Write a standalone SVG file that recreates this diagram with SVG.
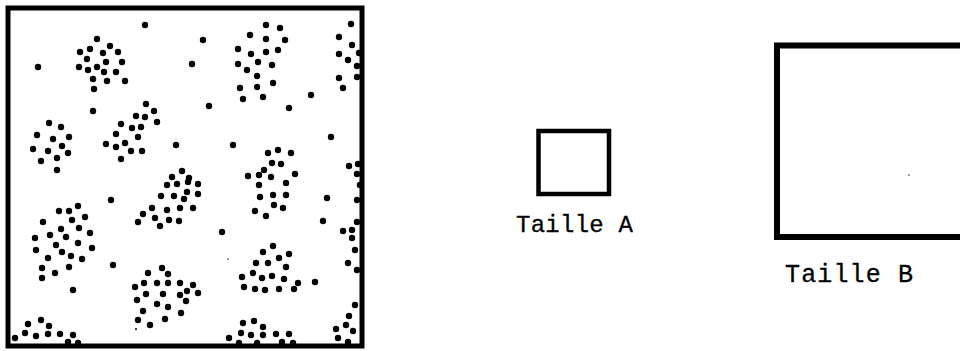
<svg xmlns="http://www.w3.org/2000/svg" width="960" height="351" viewBox="0 0 960 351">
<style>
.frame{fill:none;stroke:#000;stroke-linejoin:miter}
.d{fill:#000}
.s{fill:#000}
.lbl{font-family:"Liberation Mono","Courier New",monospace;fill:#000;stroke:#000;stroke-width:0.3}
</style>
<rect width="960" height="351" fill="#fff"/>
<g id="field">
<rect class="frame" x="8" y="8" width="354" height="338" stroke-width="5"/>
<g id="dots">
<circle class="d" cx="145" cy="25" r="3.2"/><circle class="d" cx="97" cy="39" r="3.2"/><circle class="d" cx="110" cy="46" r="3.2"/><circle class="d" cx="80" cy="52" r="3.2"/><circle class="d" cx="90" cy="49" r="3.2"/><circle class="d" cx="103" cy="53" r="3.2"/><circle class="d" cx="118" cy="52" r="3.2"/><circle class="d" cx="38" cy="67" r="3.2"/><circle class="d" cx="87" cy="59" r="3.2"/><circle class="d" cx="106" cy="62" r="3.2"/><circle class="d" cx="122" cy="62" r="3.2"/><circle class="d" cx="79" cy="67" r="3.2"/><circle class="d" cx="88" cy="70" r="3.2"/><circle class="d" cx="97" cy="67" r="3.2"/><circle class="d" cx="104" cy="72" r="3.2"/><circle class="d" cx="116" cy="72" r="3.2"/><circle class="d" cx="93" cy="79" r="3.2"/><circle class="d" cx="107" cy="81" r="3.2"/><circle class="d" cx="125" cy="81" r="3.2"/><circle class="d" cx="94" cy="89" r="3.2"/><circle class="d" cx="93" cy="111" r="3.2"/><circle class="d" cx="146" cy="104" r="3.2"/><circle class="d" cx="154" cy="111" r="3.2"/><circle class="d" cx="136" cy="116" r="3.2"/><circle class="d" cx="145" cy="117" r="3.2"/><circle class="d" cx="157" cy="122" r="3.2"/><circle class="d" cx="121" cy="124" r="3.2"/><circle class="d" cx="132" cy="128" r="3.2"/><circle class="d" cx="141" cy="127" r="3.2"/><circle class="d" cx="49" cy="123" r="3.2"/><circle class="d" cx="61" cy="127" r="3.2"/><circle class="d" cx="37" cy="135" r="3.2"/><circle class="d" cx="53" cy="139" r="3.2"/><circle class="d" cx="69" cy="137" r="3.2"/><circle class="d" cx="116" cy="134" r="3.2"/><circle class="d" cx="138" cy="137" r="3.2"/><circle class="d" cx="33" cy="149" r="3.2"/><circle class="d" cx="62" cy="146" r="3.2"/><circle class="d" cx="48" cy="151" r="3.2"/><circle class="d" cx="68" cy="153" r="3.2"/><circle class="d" cx="106" cy="144" r="3.2"/><circle class="d" cx="116" cy="147" r="3.2"/><circle class="d" cx="125" cy="143" r="3.2"/><circle class="d" cx="131" cy="151" r="3.2"/><circle class="d" cx="142" cy="151" r="3.2"/><circle class="d" cx="176" cy="145" r="3.2"/><circle class="d" cx="41" cy="161" r="3.2"/><circle class="d" cx="57" cy="158" r="3.2"/><circle class="d" cx="121" cy="159" r="3.2"/><circle class="d" cx="57" cy="170" r="3.2"/><circle class="d" cx="172" cy="177" r="3.2"/><circle class="d" cx="182" cy="171" r="3.2"/>
<circle class="d" cx="351" cy="24" r="3.2"/><circle class="d" cx="266" cy="25" r="3.2"/><circle class="d" cx="280" cy="28" r="3.2"/><circle class="d" cx="250" cy="35" r="3.2"/><circle class="d" cx="266" cy="39" r="3.2"/><circle class="d" cx="285" cy="40" r="3.2"/><circle class="d" cx="203" cy="40" r="3.2"/><circle class="d" cx="339" cy="37" r="3.2"/><circle class="d" cx="352" cy="45" r="3.2"/><circle class="d" cx="238" cy="49" r="3.2"/><circle class="d" cx="251" cy="54" r="3.2"/><circle class="d" cx="266" cy="52" r="3.2"/><circle class="d" cx="278" cy="50" r="3.2"/><circle class="d" cx="339" cy="54" r="3.2"/><circle class="d" cx="359" cy="53" r="3.2"/><circle class="d" cx="192" cy="64" r="3.2"/><circle class="d" cx="238" cy="64" r="3.2"/><circle class="d" cx="247" cy="70" r="3.2"/><circle class="d" cx="258" cy="62" r="3.2"/><circle class="d" cx="272" cy="65" r="3.2"/><circle class="d" cx="348" cy="60" r="3.2"/><circle class="d" cx="357" cy="66" r="3.2"/><circle class="d" cx="257" cy="76" r="3.2"/><circle class="d" cx="339" cy="78" r="3.2"/><circle class="d" cx="357" cy="77" r="3.2"/><circle class="d" cx="240" cy="88" r="3.2"/><circle class="d" cx="257" cy="87" r="3.2"/><circle class="d" cx="273" cy="83" r="3.2"/><circle class="d" cx="343" cy="88" r="3.2"/><circle class="d" cx="243" cy="99" r="3.2"/><circle class="d" cx="263" cy="97" r="3.2"/><circle class="d" cx="311" cy="95" r="3.2"/><circle class="d" cx="209" cy="106" r="3.2"/><circle class="d" cx="289" cy="108" r="3.2"/><circle class="d" cx="331" cy="137" r="3.2"/><circle class="d" cx="233" cy="145" r="3.2"/><circle class="d" cx="268" cy="153" r="3.2"/><circle class="d" cx="278" cy="150" r="3.2"/><circle class="d" cx="291" cy="153" r="3.2"/><circle class="d" cx="272" cy="163" r="3.2"/><circle class="d" cx="281" cy="164" r="3.2"/><circle class="d" cx="349" cy="166" r="3.2"/><circle class="d" cx="358" cy="164" r="3.2"/><circle class="d" cx="189" cy="178" r="3.2"/><circle class="d" cx="248" cy="176" r="3.2"/><circle class="d" cx="259" cy="175" r="3.2"/><circle class="d" cx="264" cy="170" r="3.2"/><circle class="d" cx="271" cy="177" r="3.2"/><circle class="d" cx="295" cy="174" r="3.2"/><circle class="d" cx="357" cy="174" r="3.2"/>
<circle class="d" cx="167" cy="185" r="3.2"/><circle class="d" cx="177" cy="184" r="3.2"/><circle class="d" cx="188" cy="182" r="3.2"/><circle class="d" cx="111" cy="200" r="3.2"/><circle class="d" cx="161" cy="196" r="3.2"/><circle class="d" cx="174" cy="196" r="3.2"/><circle class="d" cx="184" cy="199" r="3.2"/><circle class="d" cx="187" cy="192" r="3.2"/><circle class="d" cx="78" cy="206" r="3.2"/><circle class="d" cx="59" cy="211" r="3.2"/><circle class="d" cx="69" cy="211" r="3.2"/><circle class="d" cx="85" cy="217" r="3.2"/><circle class="d" cx="43" cy="222" r="3.2"/><circle class="d" cx="72" cy="220" r="3.2"/><circle class="d" cx="152" cy="208" r="3.2"/><circle class="d" cx="167" cy="210" r="3.2"/><circle class="d" cx="180" cy="208" r="3.2"/><circle class="d" cx="143" cy="214" r="3.2"/><circle class="d" cx="155" cy="218" r="3.2"/><circle class="d" cx="169" cy="220" r="3.2"/><circle class="d" cx="179" cy="221" r="3.2"/><circle class="d" cx="138" cy="222" r="3.2"/><circle class="d" cx="160" cy="226" r="3.2"/><circle class="d" cx="61" cy="229" r="3.2"/><circle class="d" cx="79" cy="228" r="3.2"/><circle class="d" cx="90" cy="233" r="3.2"/><circle class="d" cx="35" cy="238" r="3.2"/><circle class="d" cx="50" cy="235" r="3.2"/><circle class="d" cx="66" cy="237" r="3.2"/><circle class="d" cx="56" cy="245" r="3.2"/><circle class="d" cx="78" cy="243" r="3.2"/><circle class="d" cx="92" cy="248" r="3.2"/><circle class="d" cx="36" cy="250" r="3.2"/><circle class="d" cx="62" cy="252" r="3.2"/><circle class="d" cx="71" cy="256" r="3.2"/><circle class="d" cx="82" cy="259" r="3.2"/><circle class="d" cx="48" cy="258" r="3.2"/><circle class="d" cx="113" cy="265" r="3.2"/><circle class="d" cx="42" cy="268" r="3.2"/><circle class="d" cx="69" cy="267" r="3.2"/><circle class="d" cx="55" cy="273" r="3.2"/><circle class="d" cx="42" cy="278" r="3.2"/><circle class="d" cx="162" cy="268" r="3.2"/><circle class="d" cx="148" cy="273" r="3.2"/><circle class="d" cx="168" cy="274" r="3.2"/><circle class="d" cx="144" cy="283" r="3.2"/><circle class="d" cx="157" cy="283" r="3.2"/><circle class="d" cx="168" cy="283" r="3.2"/><circle class="d" cx="180" cy="283" r="3.2"/><circle class="d" cx="135" cy="287" r="3.2"/><circle class="d" cx="187" cy="291" r="3.2"/><circle class="d" cx="146" cy="294" r="3.2"/><circle class="d" cx="163" cy="294" r="3.2"/><circle class="d" cx="180" cy="295" r="3.2"/><circle class="d" cx="137" cy="300" r="3.2"/><circle class="d" cx="157" cy="304" r="3.2"/><circle class="d" cx="168" cy="307" r="3.2"/><circle class="d" cx="186" cy="301" r="3.2"/><circle class="d" cx="143" cy="311" r="3.2"/><circle class="d" cx="181" cy="313" r="3.2"/><circle class="d" cx="73" cy="290" r="3.2"/><circle class="d" cx="165" cy="319" r="3.2"/><circle class="d" cx="138" cy="320" r="3.2"/><circle class="d" cx="150" cy="325" r="3.2"/><circle class="d" cx="41" cy="320" r="3.2"/><circle class="d" cx="28" cy="324" r="3.2"/><circle class="d" cx="49" cy="326" r="3.2"/><circle class="d" cx="25" cy="333" r="3.2"/><circle class="d" cx="36" cy="336" r="3.2"/><circle class="d" cx="48" cy="334" r="3.2"/><circle class="d" cx="60" cy="334" r="3.2"/><circle class="d" cx="73" cy="335" r="3.2"/><circle class="d" cx="15" cy="338" r="3.2"/><circle class="d" cx="68" cy="342" r="3.2"/><circle class="d" cx="78" cy="343" r="3.2"/>
<circle class="d" cx="198" cy="184" r="3.2"/><circle class="d" cx="198" cy="194" r="3.2"/><circle class="d" cx="193" cy="208" r="3.2"/><circle class="d" cx="259" cy="185" r="3.2"/><circle class="d" cx="286" cy="183" r="3.2"/><circle class="d" cx="260" cy="197" r="3.2"/><circle class="d" cx="273" cy="195" r="3.2"/><circle class="d" cx="286" cy="195" r="3.2"/><circle class="d" cx="274" cy="205" r="3.2"/><circle class="d" cx="283" cy="208" r="3.2"/><circle class="d" cx="255" cy="211" r="3.2"/><circle class="d" cx="266" cy="216" r="3.2"/><circle class="d" cx="327" cy="198" r="3.2"/><circle class="d" cx="323" cy="221" r="3.2"/><circle class="d" cx="222" cy="232" r="3.2"/><circle class="d" cx="360" cy="185" r="3.2"/><circle class="d" cx="357" cy="200" r="3.2"/><circle class="d" cx="357" cy="222" r="3.2"/><circle class="d" cx="343" cy="231" r="3.2"/><circle class="d" cx="352" cy="230" r="3.2"/><circle class="d" cx="352" cy="238" r="3.2"/><circle class="d" cx="355" cy="250" r="3.2"/><circle class="d" cx="348" cy="263" r="3.2"/><circle class="d" cx="357" cy="270" r="3.2"/><circle class="d" cx="273" cy="246" r="3.2"/><circle class="d" cx="263" cy="252" r="3.2"/><circle class="d" cx="289" cy="254" r="3.2"/><circle class="d" cx="279" cy="258" r="3.2"/><circle class="d" cx="256" cy="263" r="3.2"/><circle class="d" cx="268" cy="263" r="3.2"/><circle class="d" cx="286" cy="267" r="3.2"/><circle class="d" cx="253" cy="273" r="3.2"/><circle class="d" cx="262" cy="278" r="3.2"/><circle class="d" cx="272" cy="276" r="3.2"/><circle class="d" cx="284" cy="279" r="3.2"/><circle class="d" cx="242" cy="277" r="3.2"/><circle class="d" cx="298" cy="283" r="3.2"/><circle class="d" cx="315" cy="282" r="3.2"/><circle class="d" cx="244" cy="287" r="3.2"/><circle class="d" cx="255" cy="289" r="3.2"/><circle class="d" cx="265" cy="290" r="3.2"/><circle class="d" cx="279" cy="289" r="3.2"/><circle class="d" cx="294" cy="289" r="3.2"/><circle class="d" cx="193" cy="285" r="3.2"/><circle class="d" cx="198" cy="293" r="3.2"/><circle class="d" cx="355" cy="305" r="3.2"/><circle class="d" cx="349" cy="316" r="3.2"/><circle class="d" cx="346" cy="325" r="3.2"/><circle class="d" cx="336" cy="329" r="3.2"/><circle class="d" cx="353" cy="331" r="3.2"/><circle class="d" cx="338" cy="338" r="3.2"/><circle class="d" cx="348" cy="342" r="3.2"/><circle class="d" cx="243" cy="323" r="3.2"/><circle class="d" cx="254" cy="321" r="3.2"/><circle class="d" cx="263" cy="327" r="3.2"/><circle class="d" cx="241" cy="333" r="3.2"/><circle class="d" cx="251" cy="335" r="3.2"/><circle class="d" cx="263" cy="335" r="3.2"/><circle class="d" cx="276" cy="334" r="3.2"/><circle class="d" cx="289" cy="334" r="3.2"/><circle class="d" cx="229" cy="338" r="3.2"/><circle class="d" cx="239" cy="343" r="3.2"/><circle class="d" cx="257" cy="343" r="3.2"/><circle class="d" cx="282" cy="342" r="3.2"/><circle class="d" cx="293" cy="343" r="3.2"/>
<circle class="s" cx="228" cy="259" r="0.8"/><circle class="s" cx="136" cy="329" r="1"/>
</g>
</g>
<g id="box-a">
<rect class="frame" x="538.5" y="131" width="70.5" height="63" stroke-width="4.5"/>
<text class="lbl" x="516" y="232" font-size="24" textLength="117" lengthAdjust="spacing">Taille A</text>
</g>
<g id="box-b">
<rect class="frame" x="777" y="45.5" width="200" height="191.5" stroke-width="6"/>
<circle class="s" cx="909" cy="175" r="0.7"/>
<text class="lbl" x="785" y="282" font-size="25" textLength="128" lengthAdjust="spacing">Taille B</text>
</g>
</svg>
